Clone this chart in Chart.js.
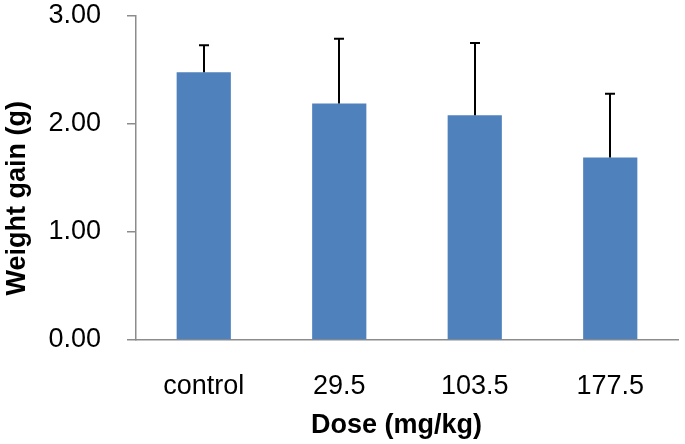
<!DOCTYPE html>
<html>
<head>
<meta charset="utf-8">
<script src="https://cdn.jsdelivr.net/npm/chart.js@4"></script>
<style>
  html, body { margin: 0; padding: 0; background: #ffffff; }
  #wrap { width: 685px; height: 444px; position: relative; }
</style>
</head>
<body>
<div id="wrap"><canvas id="c" width="685" height="444"></canvas></div>
<script>
const categories = ["control", "29.5", "103.5", "177.5"];
const weightGain = [2.48, 2.19, 2.08, 1.69];
const errorUp = [0.25, 0.60, 0.67, 0.59];
const yTicks = [0, 1, 2, 3];

const errorBarPlugin = {
  id: 'errorBars',
  afterDatasetsDraw(chart) {
    const ctx = chart.ctx;
    const meta = chart.getDatasetMeta(0);
    const yScale = chart.scales.y;
    ctx.save();
    ctx.strokeStyle = '#000000';
    ctx.lineWidth = 2;
    meta.data.forEach((bar, i) => {
      const x = Math.round(bar.x);
      const yTop = yScale.getPixelForValue(weightGain[i] + errorUp[i]);
      const yBase = bar.y;
      ctx.beginPath();
      ctx.moveTo(x, yBase);
      ctx.lineTo(x, yTop);
      ctx.moveTo(x - 5, yTop);
      ctx.lineTo(x + 5, yTop);
      ctx.stroke();
    });
    ctx.restore();
  }
};

new Chart(document.getElementById('c'), {
  type: 'bar',
  data: {
    labels: categories,
    datasets: [{
      data: weightGain,
      backgroundColor: '#4F81BD',
      borderWidth: 0,
      barPercentage: 0.4,
      categoryPercentage: 1.0
    }]
  },
  options: {
    responsive: false,
    animation: false,
    devicePixelRatio: 1,
    layout: { padding: { top: 0, right: 7, bottom: 0, left: 0 } },
    plugins: {
      legend: { display: false },
      tooltip: { enabled: false }
    },
    scales: {
      x: {
        grid: { display: false, drawTicks: false, tickLength: 0 },
        border: { display: true, color: '#8c8c8c', width: 1.5 },
        ticks: {
          color: '#000000',
          padding: 30,
          font: { family: 'Liberation Sans, Arial, sans-serif', size: 27 }
        },
        title: {
          display: true,
          text: 'Dose (mg/kg)\u2002 ',
          color: '#000000',
          padding: { top: 3, bottom: 2 },
          font: { family: 'Liberation Sans, Arial, sans-serif', size: 27, weight: 'bold' }
        },
        afterFit(scale) {
          scale.height = 104;
          scale.paddingLeft = 0;
          scale.paddingRight = 0;
        }
      },
      y: {
        min: 0,
        max: 3,
        afterBuildTicks(scale) { scale.ticks = yTicks.map(v => ({ value: v })); },
        grid: { drawOnChartArea: false, drawTicks: true, tickLength: 9, color: '#8c8c8c', lineWidth: 1.5 },
        border: { display: true, color: '#8c8c8c', width: 1.5 },
        ticks: {
          color: '#000000',
          padding: 26,
          font: { family: 'Liberation Sans, Arial, sans-serif', size: 27 },
          callback: (v) => Number(v).toFixed(2)
        },
        title: {
          display: true,
          text: 'Weight gain (g)\u2002\u2002\u2002',
          color: '#000000',
          padding: { top: 1, bottom: 16 },
          font: { family: 'Liberation Sans, Arial, sans-serif', size: 27, weight: 'bold' }
        },
        afterFit(scale) {
          scale.width = 136;
          scale.paddingTop = 16;
          scale.paddingBottom = 0;
        }
      }
    }
  },
  plugins: [errorBarPlugin]
});
</script>
</body>
</html>
